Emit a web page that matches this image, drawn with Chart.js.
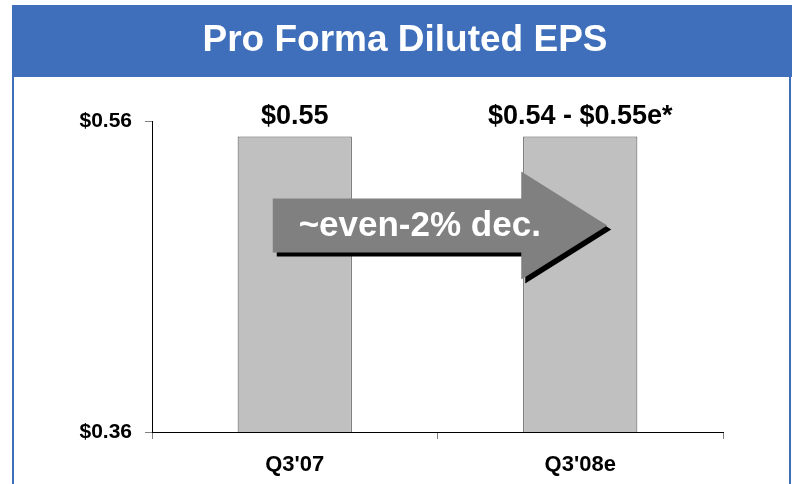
<!DOCTYPE html>
<html>
<head>
<meta charset="utf-8">
<script src="https://cdn.jsdelivr.net/npm/chart.js@4"></script>
<style>
  html, body { margin: 0; padding: 0; background: #fff; }
  #wrap { width: 792px; height: 484px; position: relative; }
</style>
</head>
<body>
<div id="wrap"><canvas id="eps"></canvas></div>
<script>
// Daten
const categories = ["Q3'07", "Q3'08e"];
const epsValues = [0.55, 0.55];
const barLabels = ["$0.55", "$0.54 - $0.55e*"];
const yTicks = [0.36, 0.56];
const chartTitle = "Pro Forma Diluted EPS";
const arrowText = "~even-2% dec.";

const FONT = "'Liberation Sans', Arial, sans-serif";
const BLUE = "#3f6fba";

// Rahmen + Titelband
const framePlugin = {
  id: "frame",
  beforeDraw(chart) {
    const { ctx, width, height } = chart;
    ctx.save();
    ctx.fillStyle = "#fff";
    ctx.fillRect(0, 0, width, height);
    ctx.fillStyle = BLUE;
    ctx.fillRect(12, 5, width - 12, 72);
    ctx.fillRect(12, 5, 2, height);
    ctx.fillRect(789, 5, 2, height);
    ctx.fillStyle = "#fff";
    ctx.font = `bold 37px ${FONT}`;
    ctx.textAlign = "center";
    ctx.textBaseline = "alphabetic";
    ctx.fillText(chartTitle, 405, 51);
    ctx.restore();
  }
};

// Werte über den Balken + Pfeil
const overlayPlugin = {
  id: "overlay",
  afterDatasetsDraw(chart) {
    const { ctx } = chart;
    const bars = chart.getDatasetMeta(0).data;
    const xs = chart.scales.x;

    ctx.save();
    ctx.fillStyle = "#000";
    ctx.font = `bold 27px ${FONT}`;
    ctx.textAlign = "center";
    ctx.textBaseline = "alphabetic";
    bars.forEach((bar, i) => {
      ctx.fillText(barLabels[i], bar.x, bar.y - 13);
    });

    // Pfeil
    const c0 = xs.getPixelForValue(0);
    const c1 = xs.getPixelForValue(1);
    const midY = bars[0].y + 89;
    const left = c0 - 22, neck = c1 - 59, tip = c1 + 27;
    const bh = 27, hh = 54;
    const shape = (dx, dy) => {
      ctx.beginPath();
      ctx.moveTo(left + dx, midY - bh + dy);
      ctx.lineTo(neck + dx, midY - bh + dy);
      ctx.lineTo(neck + dx, midY - hh + dy);
      ctx.lineTo(tip + dx, midY + dy);
      ctx.lineTo(neck + dx, midY + hh + dy);
      ctx.lineTo(neck + dx, midY + bh + dy);
      ctx.lineTo(left + dx, midY + bh + dy);
      ctx.closePath();
      ctx.fill();
    };
    ctx.fillStyle = "#000";
    shape(4, 4);
    ctx.fillStyle = "#808080";
    shape(0, 0);

    ctx.fillStyle = "#fff";
    ctx.font = `bold 35px ${FONT}`;
    ctx.textBaseline = "middle";
    ctx.fillText(arrowText, c0 + 125, midY + 1);
    ctx.restore();
  }
};

const chart = new Chart(document.getElementById("eps").getContext("2d"), {
  type: "bar",
  data: {
    labels: categories,
    datasets: [{
      data: epsValues,
      backgroundColor: "#c0c0c0",
      borderColor: "#505050",
      borderWidth: 1,
      barPercentage: 0.4,
      categoryPercentage: 1
    }]
  },
  options: {
    responsive: true,
    maintainAspectRatio: false,
    animation: false,
    layout: { padding: { left: 72, right: 69, top: 121, bottom: 0 } },
    plugins: {
      legend: { display: false },
      tooltip: { enabled: false },
      title: { display: false }
    },
    scales: {
      x: {
        afterFit: (scale) => { scale.height = 52; },
        grid: {
          display: true,
          drawOnChartArea: false,
          drawTicks: true,
          tickLength: 7,
          color: "#808080"
        },
        border: { display: true, color: "#000", width: 1 },
        ticks: {
          color: "#000",
          padding: 13,
          font: { family: FONT, size: 22, weight: "bold" }
        }
      },
      y: {
        min: 0.36,
        max: 0.56,
        afterFit: (scale) => { scale.width = 80; },
        afterBuildTicks: (scale) => { scale.ticks = yTicks.map(v => ({ value: v })); },
        grid: {
          display: true,
          drawOnChartArea: false,
          drawTicks: true,
          tickLength: 7,
          color: "#808080"
        },
        border: { display: true, color: "#000", width: 1 },
        ticks: {
          color: "#000",
          padding: 13,
          font: { family: FONT, size: 21, weight: "bold" },
          callback: (value) => `$${Number(value).toFixed(2)}`
        }
      }
    }
  },
  plugins: [framePlugin, overlayPlugin]
});
</script>
</body>
</html>
